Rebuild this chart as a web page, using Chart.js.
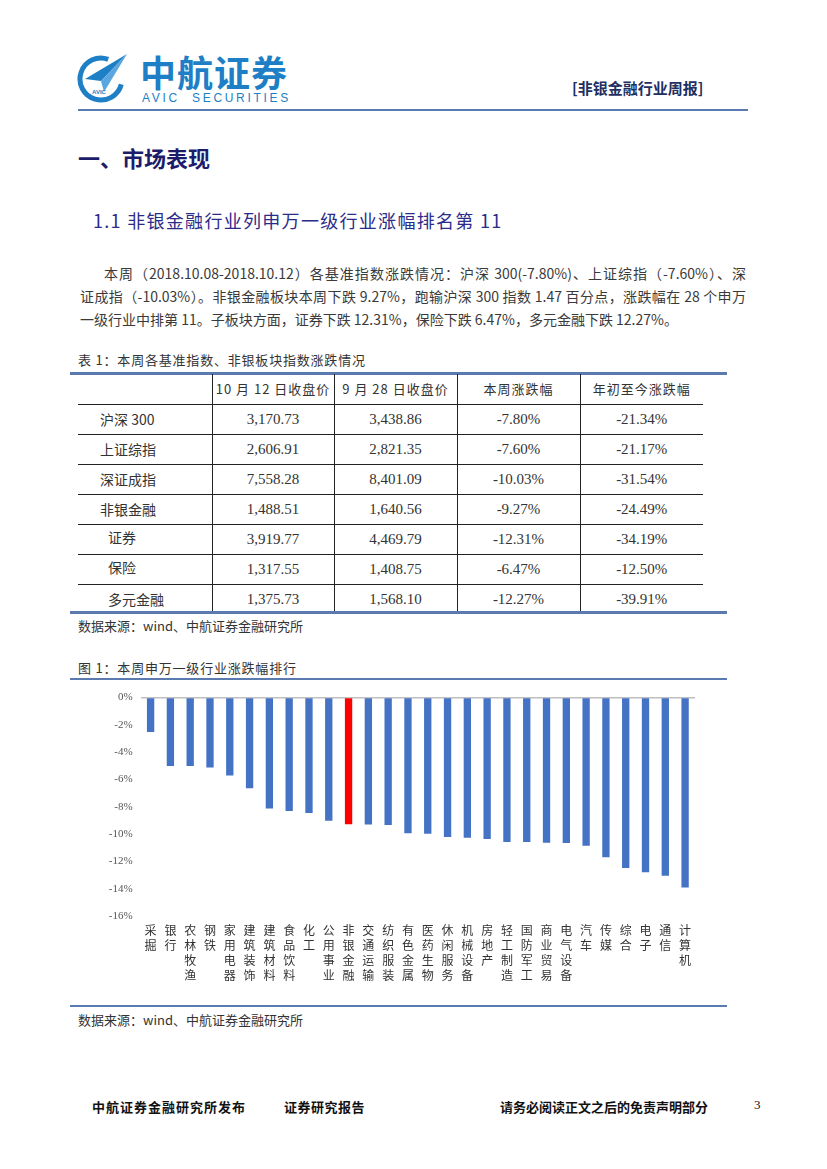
<!DOCTYPE html>
<html>
<head>
<meta charset="utf-8">
<script src="https://cdn.jsdelivr.net/npm/chart.js@4.4.1/dist/chart.umd.min.js"></script>
<style>
  body { margin: 0; background: #fff; }
  #page { position: relative; width: 827px; height: 1169px; overflow: hidden; font-family: "Noto Sans CJK SC", sans-serif; color: #333; }
  .abs { position: absolute; white-space: nowrap; }
  .rule { position: absolute; background: #5a7ab0; }
  .para { position: absolute; left: 80px; width: 666px; font-size: 14px; line-height: 23px; color: #3a3a3a; white-space: nowrap; }
  .para .j { text-align: justify; text-align-last: justify; }
  #tbl { position: absolute; left: 78px; top: 374px; border-collapse: collapse; table-layout: fixed; width: 625px; font-size: 14px; color: #333; }
  #tbl td { box-sizing: border-box; height: 30px; padding: 0; text-align: center; border-left: 1px solid #222; border-top: 1px solid #222; font-family: "Liberation Serif", serif; font-size: 15px; }
  #tbl tr:first-child td { border-top: none; font-family: "Noto Sans CJK SC", sans-serif; font-size: 13px; letter-spacing: 1px; }
  #tbl td:first-child { border-left: none; text-align: left; font-family: "Noto Sans CJK SC", sans-serif; font-size: 14px; }
  .foot { position: absolute; top: 1097px; font-size: 13px; font-weight: bold; color: #111; white-space: nowrap; }
</style>
</head>
<body>
<div id="page">
  <!-- header / logo -->
  <svg class="abs" style="left:76px;top:52px" width="54" height="54" viewBox="0 0 54 54">
    <path d="M32.2 7.3 A21 21 0 1 0 45.3 32.4" fill="none" stroke="#1e7fc6" stroke-width="5"/>
    <polygon points="51,2 9,27 25,29" fill="#1e7fc6"/>
    <polygon points="51,2 25,29 28,40" fill="#5aa6e0"/>
    <text x="23" y="42" font-size="6" font-family="Arial" font-weight="bold" fill="#1e7fc6" text-anchor="middle">AVIC</text>
  </svg>
  <div class="abs" style="left:140px;top:47px;font-size:36px;font-weight:bold;color:#1e7fc6;letter-spacing:1px;line-height:48px;">中航证券</div>
  <div class="abs" style="left:142px;top:91px;font-family:'Liberation Sans',Arial,sans-serif;font-size:12px;color:#1e7fc6;letter-spacing:2.7px;line-height:14px;">AVIC&nbsp;&nbsp;SECURITIES</div>
  <div class="abs" style="left:572px;top:78px;font-size:15px;font-weight:bold;color:#1f2f5f;line-height:20px;">[非银金融行业周报]</div>
  <div class="rule" style="left:78px;top:109px;width:670px;height:2px;"></div>

  <div class="abs" style="left:78px;top:141px;font-size:22px;font-weight:bold;color:#1c1c6b;line-height:32px;">一、市场表现</div>
  <div class="abs" style="left:93px;top:206px;font-size:18px;color:#2b2b8a;letter-spacing:1.3px;line-height:28px;">1.1 非银金融行业列申万一级行业涨幅排名第 11</div>

  <div class="para" style="top:262px;">
    <div class="j" style="padding-left:24px;">本周（2018.10.08-2018.10.12）各基准指数涨跌情况：沪深 300(-7.80%)、上证综指（-7.60%）、深</div>
    <div class="j">证成指（-10.03%）。非银金融板块本周下跌 9.27%，跑输沪深 300 指数 1.47 百分点，涨跌幅在 28 个申万</div>
    <div>一级行业中排第 11。子板块方面，证券下跌 12.31%，保险下跌 6.47%，多元金融下跌 12.27%。</div>
  </div>

  <div class="abs" style="left:78px;top:351px;font-size:13px;letter-spacing:0.8px;line-height:18px;color:#333;">表 1：本周各基准指数、非银板块指数涨跌情况</div>
  <div class="rule" style="left:70px;top:372px;width:657px;height:3px;"></div>
  <table id="tbl"></table>
  <div class="rule" style="left:70px;top:611px;width:657px;height:3px;"></div>
  <div class="abs" style="left:78px;top:617px;font-size:13px;line-height:18px;color:#333;">数据来源：wind、中航证券金融研究所</div>

  <div class="abs" style="left:78px;top:659px;font-size:13px;letter-spacing:0.8px;line-height:18px;color:#333;">图 1：本周申万一级行业涨跌幅排行</div>
  <div class="rule" style="left:70px;top:678px;width:657px;height:2px;"></div>
  <canvas id="chart" class="abs" style="left:78px;top:683px;" width="649" height="320"></canvas>
  <div class="rule" style="left:70px;top:1005px;width:657px;height:2px;"></div>
  <div class="abs" style="left:78px;top:1011px;font-size:13px;line-height:18px;color:#333;">数据来源：wind、中航证券金融研究所</div>

  <div class="foot" style="left:92px;letter-spacing:1px;">中航证券金融研究所发布</div>
  <div class="foot" style="left:284px;letter-spacing:0.5px;">证券研究报告</div>
  <div class="foot" style="left:500px;">请务必阅读正文之后的免责声明部分</div>
  <div class="foot" style="left:754px;font-weight:normal;font-family:'Liberation Serif',serif;">3</div>
</div>

<script>
// table 1 data
const tableHeader = ['', '10 月 12 日收盘价', '9 月 28 日收盘价', '本周涨跌幅', '年初至今涨跌幅'];
const tableRows = ['沪深 300', '上证综指', '深证成指', '非银金融', '证券', '保险', '多元金融'];
const closeOct12 = ['3,170.73', '2,606.91', '7,558.28', '1,488.51', '3,919.77', '1,317.55', '1,375.73'];
const closeSep28 = ['3,438.86', '2,821.35', '8,401.09', '1,640.56', '4,469.79', '1,408.75', '1,568.10'];
const weekChange = ['-7.80%', '-7.60%', '-10.03%', '-9.27%', '-12.31%', '-6.47%', '-12.27%'];
const ytdChange = ['-21.34%', '-21.17%', '-31.54%', '-24.49%', '-34.19%', '-12.50%', '-39.91%'];

// figure 1 data
const categories = ['采掘', '银行', '农林牧渔', '钢铁', '家用电器', '建筑装饰', '建筑材料', '食品饮料', '化工', '公用事业',
  '非银金融', '交通运输', '纺织服装', '有色金属', '医药生物', '休闲服务', '机械设备', '房地产', '轻工制造', '国防军工',
  '商业贸易', '电气设备', '汽车', '传媒', '综合', '电子', '通信', '计算机'];
const weeklyChange = [-2.52, -5.01, -5.02, -5.13, -5.71, -6.64, -8.12, -8.31, -8.46, -9.03,
  -9.27, -9.30, -9.33, -9.94, -9.97, -10.22, -10.27, -10.35, -10.57, -10.58,
  -10.63, -10.65, -10.85, -11.69, -12.48, -12.80, -13.06, -13.92];
const highlight = '非银金融';
const yTicks = [0, -2, -4, -6, -8, -10, -12, -14, -16];

// build table
const tbl = document.getElementById('tbl');
const colWidths = [134, 122, 123, 123, 123];
function addRow(cells, idx) {
  const tr = document.createElement('tr');
  cells.forEach((c, i) => {
    const td = document.createElement('td');
    td.style.width = colWidths[i] + 'px';
    td.textContent = c;
    if (i === 0 && idx >= 0) {
      td.style.paddingLeft = idx >= 4 ? '30px' : '22px';
      if (idx === 4 || idx === 5) { td.style.verticalAlign = 'top'; td.style.paddingTop = '2px'; }
    }
    tr.appendChild(td);
  });
  tbl.appendChild(tr);
}
addRow(tableHeader, -1);
tableRows.forEach((r, i) => addRow([r, closeOct12[i], closeSep28[i], weekChange[i], ytdChange[i]], i));

// chart
const ctx = document.getElementById('chart').getContext('2d');
new Chart(ctx, {
  type: 'bar',
  data: {
    labels: categories.map(c => c.split('')),
    datasets: [{
      data: weeklyChange,
      backgroundColor: categories.map(c => c === highlight ? '#ff0000' : '#4472c4'),
      borderWidth: 0,
      barPercentage: 0.37,
      categoryPercentage: 1.0
    }]
  },
  options: {
    responsive: false,
    animation: false,
    devicePixelRatio: 1,
    layout: { padding: { left: 0, right: 32, top: 11, bottom: 0 } },
    plugins: { legend: { display: false }, tooltip: { enabled: false } },
    scales: {
      x: {
        grid: { display: false, drawTicks: false },
        border: { display: false },
        ticks: {
          autoSkip: false, maxRotation: 0, minRotation: 0, padding: 7,
          color: '#333',
          font: { family: '"Noto Sans CJK SC", sans-serif', size: 12, lineHeight: 1.25 }
        },
        afterFit: s => { s.height = 87; }
      },
      y: {
        min: -16, max: 0,
        afterBuildTicks: s => { s.ticks = yTicks.map(v => ({ value: v })); },
        grid: {
          drawTicks: false,
          color: c => (c.tick && c.tick.value === 0) ? '#bfbfbf' : 'rgba(0,0,0,0)',
          lineWidth: 1.5
        },
        border: { display: false },
        ticks: {
          padding: 8,
          color: '#555',
          font: { family: '"Liberation Serif", serif', size: 11 },
          callback: v => v + '%'
        },
        afterFit: s => { s.width = 62.7; }
      }
    }
  }
});
</script>
</body>
</html>
